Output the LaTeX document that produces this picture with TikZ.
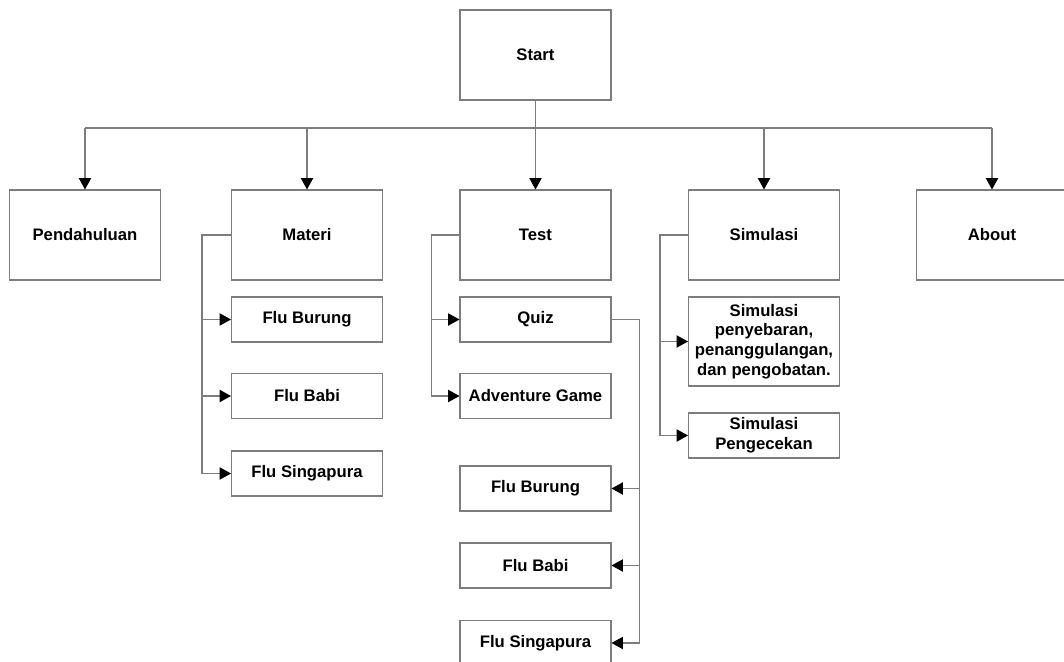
\documentclass[tikz,border=0pt]{standalone}
\usepackage{fontspec}
\setmainfont{Liberation Sans}
\usetikzlibrary{arrows.meta}
\definecolor{linegray}{RGB}{125,125,125}

\begin{document}
\begin{tikzpicture}[x=0.02cm, y=-0.02cm]
                \useasboundingbox (0,0) rectangle (1064,662);
                \begin{scope}[every node/.style={draw=linegray, line width=0.6pt, rectangle, align=center, inner sep=1pt,
                                font=\bfseries\fontsize{9.5}{11.3}\selectfont}]
                        \node [minimum width=3.02cm, minimum height=1.8cm] (start) at (535.5,55) {Start};
                        \node [minimum width=3.02cm, minimum height=1.8cm] (pend) at (85,235) {Pendahuluan};
                        \node [minimum width=3.02cm, minimum height=1.8cm] (materi) at (307,235) {Materi};
                        \node [minimum width=3.02cm, minimum height=1.8cm] (test) at (535.5,235) {Test};
                        \node [minimum width=3.02cm, minimum height=1.8cm] (simulasi) at (764,235) {Simulasi};
                        \node [minimum width=3.02cm, minimum height=1.8cm] (about) at (992,235) {About};
                        \node [minimum width=3.02cm, minimum height=0.9cm] (mburung) at (307,319.5) {Flu Burung};
                        \node [minimum width=3.02cm, minimum height=0.9cm] (mbabi) at (307,396) {Flu Babi};
                        \node [minimum width=3.02cm, minimum height=0.9cm] (msingapura) at (307,473.5) {Flu Singapura};
                        \node [minimum width=3.02cm, minimum height=0.9cm] (quiz) at (535.5,319.5) {Quiz};
                        \node [minimum width=3.02cm, minimum height=0.9cm] (adventure) at (535.5,396) {Adventure Game};
                        \node [minimum width=3.02cm, minimum height=0.9cm] (qburung) at (535.5,488.5) {Flu Burung};
                        \node [minimum width=3.02cm, minimum height=0.9cm] (qbabi) at (535.5,565.5) {Flu Babi};
                        \node [minimum width=3.02cm, minimum height=0.9cm] (qsingapura) at (535.5,643) {Flu Singapura};
                        \node [minimum width=3.02cm, minimum height=1.78cm] (penyebaran) at (764,341.5) {Simulasi\\penyebaran,\\penanggulangan,\\dan pengobatan.};
                        \node [minimum width=3.02cm, minimum height=0.9cm] (pengecekan) at (764,435.5) {Simulasi\\Pengecekan};
                \end{scope}
                \coordinate (bus) at (535.5,128);
                \begin{scope}[every path/.style={draw=linegray, line width=0.6pt, -{Triangle[length=6.5pt, width=7pt, color=black]}}]
                        \draw[-] (start) -- (bus);
                        \draw[-] (pend.north |- bus) -- (about.north |- bus);
                        \draw (pend.north |- bus) -- (pend);
                        \draw (materi.north |- bus) -- (materi);
                        \draw (bus) -- (test);
                        \draw (simulasi.north |- bus) -- (simulasi);
                        \draw (about.north |- bus) -- (about);
                        \draw (materi.west) -- ++(-29,0) |- (mburung.west);
                        \draw (materi.west) -- ++(-29,0) |- (mbabi.west);
                        \draw (materi.west) -- ++(-29,0) |- (msingapura.west);
                        \draw (test.west) -- ++(-28,0) |- (quiz.west);
                        \draw (test.west) -- ++(-28,0) |- (adventure.west);
                        \draw (quiz.east) -- ++(28,0) |- (qburung.east);
                        \draw (quiz.east) -- ++(28,0) |- (qbabi.east);
                        \draw (quiz.east) -- ++(28,0) |- (qsingapura.east);
                        \draw (simulasi.west) -- ++(-28,0) |- (penyebaran.west);
                        \draw (simulasi.west) -- ++(-28,0) |- (pengecekan.west);
                \end{scope}
        \end{tikzpicture}
\end{document}
